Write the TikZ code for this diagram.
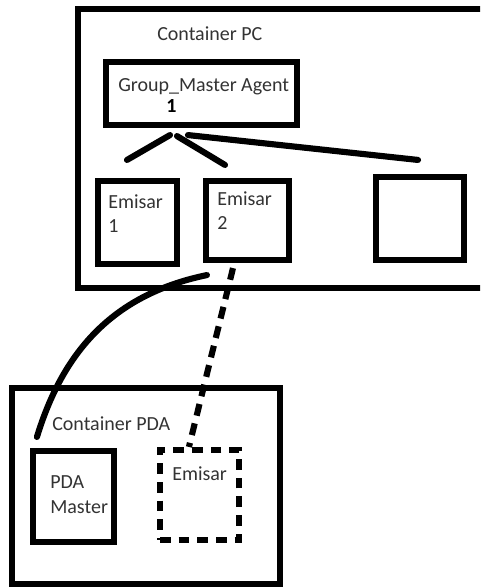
\documentclass[tikz,border=0pt]{standalone}
\usepackage{fontspec}
\setmainfont{Carlito}
\usetikzlibrary{fit,calc}
\begin{document}
\begin{tikzpicture}[x=0.75pt,y=-0.75pt,
  box/.style={draw, line width=4.6pt, inner sep=0pt},
  dbox/.style={box, dash pattern=on 8pt off 6pt},
  link/.style={line width=4.6pt, line cap=round},
  dlink/.style={line width=4.6pt, dash pattern=on 9pt off 6pt},
  lbl/.style={inner sep=0pt, anchor=base west, text=black!80,
              font=\fontsize{15}{18}\selectfont}]
\useasboundingbox (0,0) rectangle (480,587);
\clip (0,0) rectangle (480,587);

% PC container and its agents
\node[box, fit={(78,9) (530,288)}] (pc) {};
\node[box, fit={(106,62) (297,125)}] (gm) {};
\node[box, fit={(98,181) (177,264)}] (e1) {};
\node[box, fit={(206,181) (289,260)}] (e2) {};
\node[box, fit={(376,177) (464,260)}] (e3) {};

% PDA container and its agents
\node[box, fit={(12,388) (280,584)}] (pda) {};
\node[box, fit={(33,451) (114,542)}] (pm) {};
\node[dbox, fit={(160,450) (239,540)}] (e4) {};

% texts
\node[lbl] (tpc) at (157,40) {Container PC};
\node[lbl] (tgm) at (118,91) {Group\_Master Agent};
\node[lbl, font=\fontsize{15}{18}\selectfont\bfseries, text=black] (tgm1) at (166,112) {1};
\node[lbl] (te1a) at (108,208) {Emisar};
\node[lbl] (te1b) at (108,232) {1};
\node[lbl] (te2a) at (217,205) {Emisar};
\node[lbl] (te2b) at (217,229) {2};
\node[lbl] (tpda) at (52,430) {Container PDA};
\node[lbl] (tpm1) at (50,488) {PDA};
\node[lbl] (tpm2) at (50,513) {Master};
\node[lbl] (te4) at (172,480) {Emisar};

% links from the group master
\draw[link] ($(gm.south)+(-31.5,7)$) -- ($(e1.north)+(-10.5,-18)$);
\draw[link] ($(gm.south)+(-24.5,8)$) -- ($(e2.north)+(-22.5,-13)$);
\draw[link] ($(gm.south)+(-13.5,7)$) -- ($(e3.north)+(-2,-14)$);

% links between the containers
\draw[link] ($(e2.south west)+(4,12)$) .. controls (110,295) and (62,355) .. ($(pm.north west)+(7,-11)$);
\draw[dlink] ($(e2.south)+(-14.5,5)$) -- ($(e4.north west)+(32,0)$);
\end{tikzpicture}
\end{document}
